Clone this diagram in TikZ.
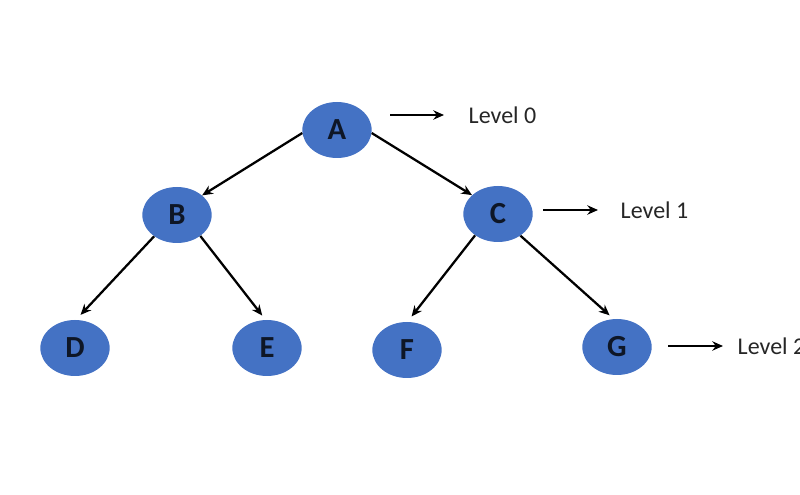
\documentclass[tikz,border=0pt]{standalone}
\usepackage{fontspec}
\setmainfont{Carlito}
\usetikzlibrary{shapes.geometric,arrows.meta}
\definecolor{nodeblue}{HTML}{4472C4}
\definecolor{lettercol}{HTML}{0E1626}
\begin{document}
\begin{tikzpicture}[x=0.75pt,y=-0.75pt,
  treenode/.style={ellipse,fill=nodeblue,minimum width=52pt,minimum height=42pt,inner sep=0pt,font=\fontsize{23}{25}\selectfont\bfseries,text=lettercol},
  edge/.style={line width=1.7pt,-{Stealth[length=8pt,width=7pt]}},
  lvl/.style={font=\fontsize{18}{20}\selectfont,anchor=west,text=black!85}]
\useasboundingbox (0,0) rectangle (800,495);
\node[treenode] (A) at (337,130) {A};
\node[treenode] (B) at (177,215) {B};
\node[treenode] (C) at (498,214) {C};
\node[treenode] (D) at (75,348) {D};
\node[treenode] (E) at (267,348) {E};
\node[treenode] (F) at (407,350) {F};
\node[treenode] (G) at (617,347) {G};
\draw[edge] (A.185) -- (B.38);
\draw[edge] (A.355) -- (C.144);
\draw[edge,shorten >=5pt] (B.223) -- (D.88);
\draw[edge,shorten >=4pt] (B.318) -- (E.93);
\draw[edge,shorten >=5pt] (C.223) -- (F.89);
\draw[edge,shorten >=4pt] (C.316) -- (G.97);
\coordinate (a0s) at (390,115); \coordinate (a0e) at (444,115);
\coordinate (a1s) at (543,210); \coordinate (a1e) at (598,210);
\coordinate (a2s) at (668,346); \coordinate (a2e) at (723,346);
\draw[edge] (a0s) -- (a0e);
\draw[edge] (a1s) -- (a1e);
\draw[edge] (a2s) -- (a2e);
\node[lvl] (L0) at (464,115) {Level 0};
\node[lvl] (L1) at (616,210) {Level 1};
\node[lvl] (L2) at (733,346) {Level 2};
\end{tikzpicture}
\end{document}
